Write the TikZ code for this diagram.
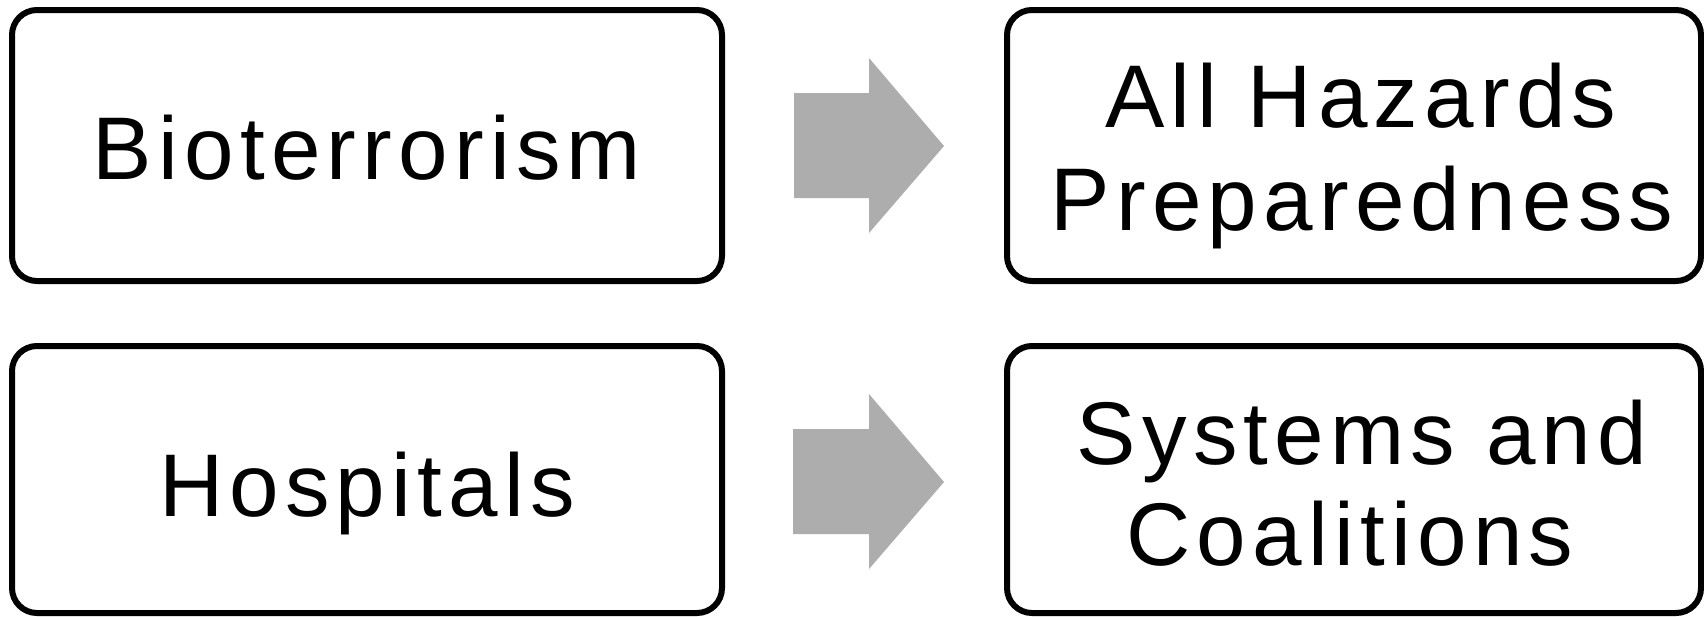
\documentclass[tikz,border=0pt]{standalone}
\usepackage{fontspec}
\setmainfont{Liberation Sans}[LetterSpace=7]
\begin{document}
\begin{tikzpicture}[x=1pt,y=-1pt,
  box/.style={draw=black,line width=6pt,rounded corners=25pt,inner sep=0pt,fill=white},
  lbl/.style={anchor=base,inner sep=0pt,font=\fontsize{89}{99}\selectfont},
  arrowfill/.style={fill=black!32,draw=none}]
\useasboundingbox (0,0) rectangle (1704,616);
\node[box,minimum width=710pt,minimum height=271pt] (b1) at (367,145.5) {};
\node[box,minimum width=694pt,minimum height=271pt] (b2) at (1354,145.5) {};
\node[box,minimum width=710pt,minimum height=267pt] (b3) at (367,479.5) {};
\node[box,minimum width=694pt,minimum height=267pt] (b4) at (1354,479.5) {};
\node[lbl] (t1) at (367,179) {Bioterrorism};
\node[lbl] (t2a) at (1361,127) {All Hazards};
\node[lbl] (t2b) at (1362,230) {Preparedness};
\node[lbl] (t3) at (367,516) {Hospitals};
\node[lbl] (t4a) at (1362,464) {Systems and};
\node[lbl] (t4b) at (1350,565) {Coalitions};
\fill[arrowfill] (794,93) -- (869,93) -- (869,58) -- (944,146) -- (869,233) -- (869,198) -- (794,198) -- cycle;
\fill[arrowfill] (793,429) -- (869,429) -- (869,394) -- (944,482) -- (869,569) -- (869,534) -- (793,534) -- cycle;
\end{tikzpicture}
\end{document}
